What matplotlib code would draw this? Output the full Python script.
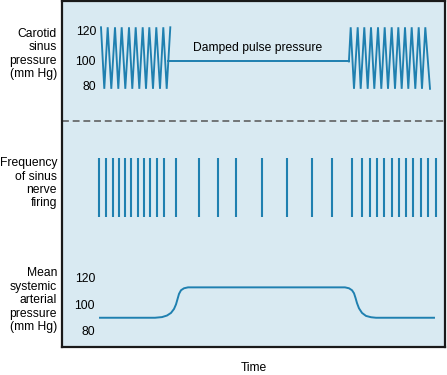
import matplotlib
matplotlib.use("Agg")
import matplotlib.pyplot as plt
import numpy as np

plt.rcParams['font.family'] = ['Liberation Sans', 'DejaVu Sans']

# ---- data (time in arbitrary units) ----
left_peaks = [101.0, 107.7, 115.0, 121.7, 129.0, 135.7, 142.7, 149.3, 156.3, 163.3, 170.3]
left_troughs = [104.3, 111.3, 118.3, 125.3, 132.3, 139.3, 146.0, 153.0, 160.0, 166.7]
right_peaks = [350.7, 357.7, 364.3, 371.0, 378.0, 384.7, 391.7, 398.3, 405.0, 411.7, 418.7, 425.3]
right_troughs = [354.0, 360.7, 367.7, 374.3, 381.3, 388.0, 395.0, 401.7, 408.3, 415.3, 422.0, 430.0]
peak_p = 124
trough_p = 79
damped_p = 99
damped_start, damped_end = 168.3, 348.9

spike_times = [99, 106.3, 113, 119, 125, 131.3, 137.8, 144, 150.2, 157, 164, 175.8,
               199, 218.3, 236.2, 261.8, 287, 311.8, 332, 352, 362.5, 370, 377,
               384.5, 391.8, 399, 406.2, 413.5, 420.8, 427.8, 435.7]

map_t = [100, 155, 162, 167, 171, 174, 176, 177.5, 179, 181, 184, 188, 345, 349,
         352, 354, 355.5, 357, 359, 362, 366, 371, 376, 434]
map_p = [90.8, 90.8, 91.3, 92.5, 94.5, 97.5, 101, 105, 109, 111.8, 113.3, 114, 114,
         113.3, 111.8, 109.5, 106, 102, 98, 94.5, 92.2, 91.2, 90.8, 90.8]

tick_vals = [120, 100, 80]

# ---- styling ----
W, H = 447, 375
FILL = '#d9eaf2'
LINE = '#1f80b0'
XL = (62, 445)
FS = 8.7

fig = plt.figure(figsize=(W / 100, H / 100), dpi=100)


def ax_at(ytop, ybot):
    return fig.add_axes([XL[0] / W, 1 - ybot / H, (XL[1] - XL[0]) / W, (ybot - ytop) / H])


# background box
bg = ax_at(1, 347)
bg.set_facecolor(FILL)
bg.set_xticks([]); bg.set_yticks([])
for s in bg.spines.values():
    s.set_linewidth(1.6)
    s.set_color('#1a1a1a')
bg.set_xlim(XL); bg.set_ylim(347, 1)
bg.axhline(121, color='#555555', lw=1.1, dashes=(4.5, 2.5))


def clean(ax):
    ax.set_facecolor('none')
    ax.set_xticks([]); ax.set_yticks([])
    for s in ax.spines.values():
        s.set_visible(False)
    ax.set_xlim(XL)


# ---- top panel: carotid sinus pressure ----
a1 = ax_at(1, 121)
clean(a1)
a1.set_ylim(100 - (121 - 60.1) / 1.3675, 100 + (60.1 - 1) / 1.3675)


def zig(peaks, troughs):
    pts = sorted([(t, peak_p) for t in peaks] + [(t, trough_p) for t in troughs])
    return [p[0] for p in pts], [p[1] for p in pts]


lx, ly = zig(left_peaks, left_troughs)
a1.plot(lx, ly, color=LINE, lw=1.35, solid_joinstyle='miter')
rx, ry = zig(right_peaks, right_troughs)
rx = [damped_end] + rx
ry = [damped_p] + ry
a1.plot(rx, ry, color=LINE, lw=1.35, solid_joinstyle='miter')
a1.plot([damped_start, damped_end], [damped_p, damped_p], color=LINE, lw=1.4)
a1.text(258, 100 + (60.1 - 47.7) / 1.3675, 'Damped pulse pressure', ha='center',
        va='center', fontsize=FS)
for v, yp in zip(tick_vals, [32, 61.7, 86.7]):
    a1.text(96, 100 + (60.1 - yp) / 1.3675, str(v), ha='right', va='center', fontsize=FS)

# ---- middle panel: nerve firing ----
a2 = ax_at(121, 250)
clean(a2)
a2.set_ylim(-(250 - 216.7) / 59, 1 + (157.7 - 121) / 59)
a2.vlines(spike_times, 0, 1, color=LINE, lw=1.5)

# ---- bottom panel: mean arterial pressure ----
a3 = ax_at(250, 347)
clean(a3)
a3.set_ylim(100 - (347 - 305.7) / 1.31, 100 + (305.7 - 250) / 1.31)
a3.plot(map_t, map_p, color=LINE, lw=1.4)
for v, yp in zip(tick_vals, [279.3, 305.7, 331.7]):
    a3.text(95, 100 + (305.7 - yp) / 1.31, str(v), ha='right', va='center', fontsize=FS)

# ---- side labels ----
kw = dict(ha='right', va='center', fontsize=FS, linespacing=1.16)
fig.text(57 / W, 1 - 54 / H, 'Carotid\nsinus\npressure\n(mm Hg)', **kw)
fig.text(57 / W, 1 - 183.3 / H, 'Frequency\nof sinus\nnerve\nfiring', **kw)
fig.text(57 / W, 1 - 300.3 / H, 'Mean\nsystemic\narterial\npressure\n(mm Hg)', **kw)
fig.text(254 / W, 1 - 367.7 / H, 'Time', ha='center', va='center', fontsize=FS)

fig.savefig('out.png', dpi=100)
